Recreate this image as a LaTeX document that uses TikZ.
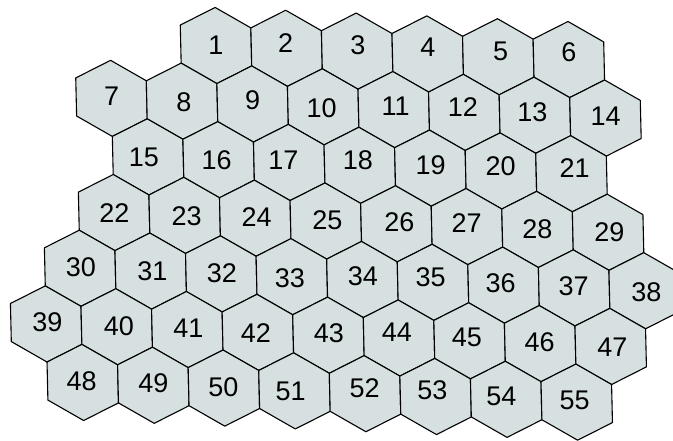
\documentclass[tikz,border=0pt]{standalone}
\usepackage{fontspec}
\setmainfont{Liberation Sans}
\definecolor{hexfill}{RGB}{214,224,224}
\tikzset{
  hexcell/.style={draw=black, fill=hexfill, line width=1.1pt, line join=round},
  hexlabel/.style={inner sep=0pt, font=\fontsize{27}{30}\selectfont}
}
\begin{document}
\begin{tikzpicture}
\useasboundingbox (0pt,0pt) rectangle (673pt,-440pt);
\begin{scope}[shift={(216pt,-45.5pt)}, x={(70.57pt,-2.81pt)}, y={(36.6pt,-58.5pt)}]
\foreach \j/\imin/\imax in {0/0/5, 1/-2/5, 2/-2/4, 3/-3/4, 4/-4/4, 5/-5/3, 6/-5/2} {
  \foreach \i in {\imin,...,\imax} {
    \draw[hexcell] (\i+1/3,\j+1/3) -- (\i-1/3,\j+2/3) -- (\i-2/3,\j+1/3) -- (\i-1/3,\j-1/3) -- (\i+1/3,\j-2/3) -- (\i+2/3,\j-1/3) -- cycle;
  }
}
\end{scope}
\foreach \n/\x/\y in {
  1/216/45, 2/285.7/42.7, 3/358/45, 4/428/47.3, 5/500.7/51.7, 6/569/52.7,
  7/111.7/96.7, 8/184/102.7, 9/252.7/100, 10/321.7/108.3, 11/395.7/106, 12/463/106.7, 13/532.3/112.7, 14/605.7/116.7,
  15/144/157.3, 16/216.7/160, 17/283.3/160, 18/358/160, 19/430.7/165, 20/500.7/166.7, 21/574.7/168.3,
  22/114.3/212.7, 23/186.7/216.7, 24/256.7/216.7, 25/327.3/220, 26/399.3/222.3, 27/466.7/223.3, 28/537.3/229, 29/609.3/232.3,
  30/81/267.3, 31/152.3/270.7, 32/222/273.3, 33/290/278.3, 34/363/276, 35/430.7/277.3, 36/500.7/282.7, 37/573.7/286, 38/646.3/291.7,
  39/47.3/322.3, 40/119/326, 41/188.3/328.3, 42/256/333.3, 43/329/333.3, 44/397/332.7, 45/467/337.3, 46/539.7/341.7, 47/612.3/347.3,
  48/81.7/380.7, 49/153.3/383.3, 50/223.3/386.7, 51/290.7/391.7, 52/364.7/388.3, 53/432.3/390, 54/501.3/396, 55/574.7/400} {
  \node[hexlabel] (h\n) at (\x pt,-\y pt) {\n};
}
\end{tikzpicture}
\end{document}
